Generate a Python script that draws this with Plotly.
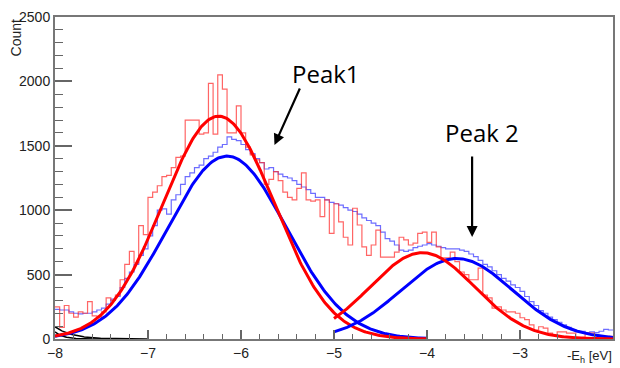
import numpy as np
import plotly.graph_objects as go

# ---- data ----
bin_start = -8.0
bin_width = 0.05

blue_counts = [230, 225, 225, 210, 200, 195, 200, 200, 210, 225,
               240, 270, 310, 330, 400, 470, 520, 580, 650, 700,
               800, 880, 1000, 1010, 970, 1080, 1120, 1200, 1260, 1290,
               1330, 1350, 1400, 1420, 1450, 1490, 1510, 1570, 1550, 1540,
               1510, 1470, 1440, 1400, 1370, 1320, 1330, 1300, 1280, 1260,
               1250, 1230, 1200, 1180, 1160, 1130, 1100, 1100, 1080, 1060,
               1050, 1040, 1020, 1000, 990, 970, 940, 920, 900, 880,
               830, 780, 760, 730, 690, 680, 690, 710, 720, 730,
               740, 730, 720, 710, 700, 700, 700, 690, 680, 660,
               640, 610, 580, 560, 530, 500, 470, 450, 420, 400,
               370, 330, 290, 260, 220, 200, 170, 150, 130, 110,
               90, 70, 60, 60, 50, 55, 50, 60, 75, 70]

red_counts = [250, 90, 260, 200, 170, 210, 200, 290, 180, 170,
              210, 320, 300, 340, 460, 580, 680, 590, 880, 810,
              1100, 1140, 1190, 1260, 1270, 1330, 1410, 1420, 1700, 1700,
              1700, 1590, 1600, 1985, 1590, 2050, 1940, 1600, 1600, 1810,
              1600, 1490, 1430, 1390, 1370, 1200, 1240, 1300, 1230, 1140,
              1100, 1080, 1170, 1290, 1080, 1070, 1080, 950, 1080, 820,
              1050, 910, 790, 730, 1015, 885, 715, 650, 730, 845,
              635, 635, 635, 675, 790, 770, 730, 745, 820, 830,
              750, 830, 715, 630, 630, 675, 600, 520, 500, 460,
              460, 550, 340, 320, 240, 250, 225, 210, 210, 200,
              165, 150, 110, 70, 95, 85, 45, 30, 55, 55,
              45, 45, 15, 15, 45, 45, 30, 20, 20, 20]

# Gaussian fit parameters: (amplitude, mean, sigma, x_from, x_to)
red_fit1 = (1730, -6.24, 0.60, -8.0, -4.0)
blue_fit1 = (1420, -6.15, 0.64, -8.0, -4.0)
red_fit2 = (670, -4.05, 0.56, -5.0, -2.0)
blue_fit2 = (625, -3.68, 0.60, -5.0, -2.0)
# exponential background tails (amplitude at -8, decay length, x_to)
bg1 = (95, 0.18, -7.0)
bg2 = (55, 0.09, -7.3)

x_ticks = [-8, -7, -6, -5, -4, -3, -2]
y_ticks = [0, 500, 1000, 1500, 2000, 2500]

# ---- figure ----
def steps(counts):
    xs = [bin_start + i * bin_width for i in range(len(counts))] + [bin_start + len(counts) * bin_width]
    ys = list(counts) + [counts[-1]]
    return xs, ys

def gauss(p):
    a, m, s, x0, x1 = p
    x = np.linspace(x0, x1, 300)
    return x, a * np.exp(-0.5 * ((x - m) / s) ** 2)

def expo(p):
    a, lam, x1 = p
    x = np.linspace(-8.0, x1, 150)
    return x, a * np.exp(-(x + 8.0) / lam)

fig = go.Figure()
xb, yb = steps(blue_counts)
fig.add_trace(go.Scatter(x=xb, y=yb, mode="lines", line=dict(color="rgba(60,60,255,0.75)", width=1.2, shape="hv")))
xr, yr = steps(red_counts)
fig.add_trace(go.Scatter(x=xr, y=yr, mode="lines", line=dict(color="rgba(255,50,50,0.75)", width=1.2, shape="hv")))

for p in (bg1, bg2):
    x, y = expo(p)
    fig.add_trace(go.Scatter(x=x, y=y, mode="lines", line=dict(color="black", width=1.5)))

for p, c in ((blue_fit1, "#0000ff"), (red_fit1, "#ff0000"), (blue_fit2, "#0000ff"), (red_fit2, "#ff0000")):
    x, y = gauss(p)
    fig.add_trace(go.Scatter(x=x, y=y, mode="lines", line=dict(color=c, width=3)))

axis_font = dict(family="Liberation Sans, Arial, sans-serif", size=14, color="#222")
fig.update_xaxes(range=[-8, -2], tickvals=x_ticks, ticks="inside", ticklen=9, tickwidth=1.5,
                 tickcolor="#666", showline=True, linecolor="#777", linewidth=2, mirror=True,
                 showgrid=False, zeroline=False, tickfont=axis_font,
                 minor=dict(dtick=0.2, ticks="inside", ticklen=5, tickcolor="#666", tickwidth=1.2))
fig.update_yaxes(range=[0, 2500], tickvals=y_ticks, ticks="inside", ticklen=17, tickwidth=1.5,
                 tickcolor="#666", showline=True, linecolor="#777", linewidth=2, mirror=True,
                 showgrid=False, zeroline=False, tickfont=axis_font,
                 minor=dict(dtick=100, ticks="inside", ticklen=8, tickcolor="#666", tickwidth=1.2))

ann_font = dict(family="Open Sans, sans-serif", size=24, color="black")
fig.update_layout(
    width=620, height=368,
    margin=dict(l=55, r=5, t=17, b=29),
    plot_bgcolor="white", paper_bgcolor="white",
    showlegend=False,
    annotations=[
        dict(x=-5.64, y=1506, ax=-5.36, ay=1957, xref="x", yref="y", axref="x", ayref="y",
             text="", showarrow=True, arrowhead=2, arrowsize=1, arrowwidth=2.2, arrowcolor="black"),
        dict(x=-5.09, y=2065, xref="x", yref="y", text="Peak1", showarrow=False, font=ann_font),
        dict(x=-3.515, y=792, ax=-3.515, ay=1429, xref="x", yref="y", axref="x", ayref="y",
             text="", showarrow=True, arrowhead=2, arrowsize=1, arrowwidth=2.2, arrowcolor="black"),
        dict(x=-3.41, y=1600, xref="x", yref="y", text="Peak 2", showarrow=False, font=ann_font),
        dict(x=1.0, y=-0.085, xref="paper", yref="paper", xanchor="right", yanchor="bottom",
             text="-E<sub>h</sub> [eV]", showarrow=False, borderpad=0,
             font=dict(family="Liberation Sans, Arial, sans-serif", size=13, color="#222")),
        dict(x=-0.07, y=1.0, xref="paper", yref="paper", xanchor="center", yanchor="top",
             text="Count", textangle=-90, showarrow=False,
             font=dict(family="Liberation Sans, Arial, sans-serif", size=14, color="#222")),
    ],
)

fig.write_html("out.html")
